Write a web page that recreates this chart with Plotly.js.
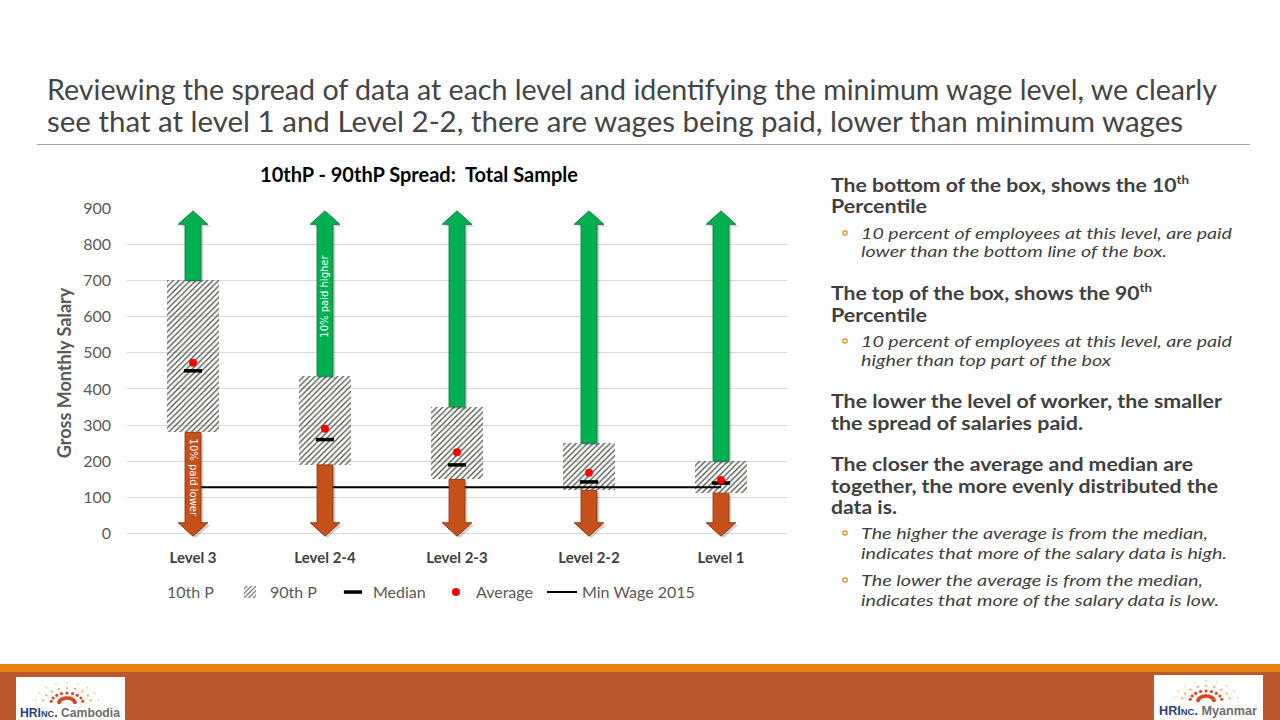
<!DOCTYPE html>
<html>
<head>
<meta charset="utf-8">
<script src="https://cdn.plot.ly/plotly-3.0.1.min.js"></script>
<style>
  html, body { margin: 0; padding: 0; background: #ffffff; }
  body { width: 1280px; height: 720px; position: relative; overflow: hidden; }
  #slide { position: absolute; left: 0; top: 0; z-index: 1; }
  #chart { position: absolute; left: 0; top: 0; width: 1280px; height: 720px; z-index: 2; }
  .ttl { font-family: Lato, "Noto Sans", sans-serif; font-size: 29px; font-weight: 400; fill: #454545; }
  .hd { font-family: Lato, "Noto Sans", sans-serif; font-size: 19px; font-weight: bold; fill: #404040; }
  .bl { font-family: Lato, "Noto Sans", sans-serif; font-size: 16px; font-style: italic; fill: #404040; }
</style>
</head>
<body>
<svg id="slide" width="1280" height="720" xmlns="http://www.w3.org/2000/svg">
  <!-- slide title -->
  <text class="ttl" x="47" y="100" textLength="1170" lengthAdjust="spacingAndGlyphs">Reviewing the spread of data at each level and identifying the minimum wage level, we clearly</text>
  <text class="ttl" x="47" y="132" textLength="1136" lengthAdjust="spacingAndGlyphs">see that at level 1 and Level 2-2, there are wages being paid, lower than minimum wages</text>
  <line x1="37" y1="144.5" x2="1250" y2="144.5" stroke="#a6a6a6" stroke-width="1"/>

  <!-- right-hand notes -->
  <text class="hd" x="831" y="192" textLength="358" lengthAdjust="spacingAndGlyphs">The bottom of the box, shows the 10<tspan font-size="12" dy="-8">th</tspan></text>
  <text class="hd" x="831" y="213" textLength="96" lengthAdjust="spacingAndGlyphs">Percentile</text>
  <circle cx="845" cy="233" r="2.2" fill="none" stroke="#E48312" stroke-width="1.2"/>
  <text class="bl" x="861" y="239" textLength="371" lengthAdjust="spacingAndGlyphs">10 percent of employees at this level, are paid</text>
  <text class="bl" x="861" y="257" textLength="306" lengthAdjust="spacingAndGlyphs">lower than the bottom line of the box.</text>

  <text class="hd" x="831" y="300" textLength="321" lengthAdjust="spacingAndGlyphs">The top of the box, shows the 90<tspan font-size="12" dy="-8">th</tspan></text>
  <text class="hd" x="831" y="322" textLength="96" lengthAdjust="spacingAndGlyphs">Percentile</text>
  <circle cx="845" cy="341" r="2.2" fill="none" stroke="#E48312" stroke-width="1.2"/>
  <text class="bl" x="861" y="347" textLength="371" lengthAdjust="spacingAndGlyphs">10 percent of employees at this level, are paid</text>
  <text class="bl" x="861" y="366" textLength="250" lengthAdjust="spacingAndGlyphs">higher than top part of the box</text>

  <text class="hd" x="831" y="408" textLength="391" lengthAdjust="spacingAndGlyphs">The lower the level of worker, the smaller</text>
  <text class="hd" x="831" y="430" textLength="252" lengthAdjust="spacingAndGlyphs">the spread of salaries paid.</text>

  <text class="hd" x="831" y="471" textLength="362" lengthAdjust="spacingAndGlyphs">The closer the average and median are</text>
  <text class="hd" x="831" y="493" textLength="387" lengthAdjust="spacingAndGlyphs">together, the more evenly distributed the</text>
  <text class="hd" x="831" y="514" textLength="66" lengthAdjust="spacingAndGlyphs">data is.</text>
  <circle cx="845" cy="533" r="2.2" fill="none" stroke="#E48312" stroke-width="1.2"/>
  <text class="bl" x="861" y="539" textLength="347" lengthAdjust="spacingAndGlyphs">The higher the average is from the median,</text>
  <text class="bl" x="861" y="559" textLength="366" lengthAdjust="spacingAndGlyphs">indicates that more of the salary data is high.</text>
  <circle cx="845" cy="580" r="2.2" fill="none" stroke="#E48312" stroke-width="1.2"/>
  <text class="bl" x="861" y="586" textLength="342" lengthAdjust="spacingAndGlyphs">The lower the average is from the median,</text>
  <text class="bl" x="861" y="606" textLength="358" lengthAdjust="spacingAndGlyphs">indicates that more of the salary data is low.</text>

  <!-- footer band -->
  <rect x="0" y="664" width="1280" height="8" fill="#E48312"/>
  <rect x="0" y="672" width="1280" height="48" fill="#BD582C"/>
  <rect x="16" y="677" width="109" height="43" fill="#ffffff"/>
  <rect x="1154" y="675" width="109" height="45" fill="#ffffff"/>
  <g id="logoL"></g>
  <g id="logoR"></g>
  <text x="20" y="717" font-family="Liberation Sans, Arial, sans-serif" font-weight="bold" font-size="12" fill="#2B3F7E" textLength="100" lengthAdjust="spacingAndGlyphs">HRI<tspan font-size="9">NC</tspan>. <tspan fill="#6d6d6d">Cambodia</tspan></text>
  <text x="1159" y="715" font-family="Liberation Sans, Arial, sans-serif" font-weight="bold" font-size="12" fill="#2B3F7E" textLength="98" lengthAdjust="spacingAndGlyphs">HRI<tspan font-size="9">NC</tspan>. <tspan fill="#6d6d6d">Myanmar</tspan></text>
</svg>

<div id="chart"></div>

<script>
// ---------------- data ----------------
const categories = ['Level 3', 'Level 2-4', 'Level 2-3', 'Level 2-2', 'Level 1'];
const p10     = [280, 190, 150, 120, 112];
const p90     = [700, 435, 350, 250, 200];
const median  = [450, 260, 190, 143, 140];
const average = [472, 290, 225, 168, 148];
const minWage = [128, 128, 128, 128, 128];

// ---------------- logos (decorative sunburst) ----------------
function sunburst(gid, cx, cy) {
  const g = document.getElementById(gid);
  const ns = 'http://www.w3.org/2000/svg';
  const angles = [170, 150, 130, 110, 90, 70, 50, 30, 10];
  angles.forEach(a => {
    const rad = a * Math.PI / 180;
    for (let k = 0; k < 4; k++) {
      const r = 5 + k * 5;
      const c = document.createElementNS(ns, 'circle');
      c.setAttribute('cx', cx + r * Math.cos(rad) * 1.6);
      c.setAttribute('cy', cy - r * Math.sin(rad));
      c.setAttribute('r', Math.max(0.6, 2.0 - k * 0.45));
      c.setAttribute('fill', k < 2 ? '#D9481C' : '#F2A35E');
      g.appendChild(c);
    }
  });
}
sunburst('logoL', 67, 703);
sunburst('logoR', 1206, 701);

// ---------------- chart ----------------
const idx = categories.map((_, i) => i);
const spread = p90.map((v, i) => v - p10[i]);

const UP_TIP = 892, DOWN_TIP = -7;      // arrow tip positions (axis units)
const SHAFT = 0.06, HEAD = 0.112;       // half widths in category units
const HEAD_H = 37;                      // arrow head length in axis units

function arrows(from, tip, dx, dy) {
  const X = [], Y = [];
  idx.forEach(i => {
    const dir = tip > from[i] ? 1 : -1;
    const yb = tip - dir * HEAD_H;
    const xs = [i - SHAFT, i - SHAFT, i - HEAD, i, i + HEAD, i + SHAFT, i + SHAFT, i - SHAFT];
    const ys = [from[i], yb, yb, tip, yb, yb, from[i], from[i]];
    xs.forEach((v, k) => { X.push(v + dx); Y.push(ys[k] + dy); });
    X.push(null); Y.push(null);
  });
  return { X, Y };
}
const gUp = arrows(p90, UP_TIP, 0, 0);
const gDn = arrows(p10, DOWN_TIP, 0, 0);
const sUp = arrows(p90, UP_TIP, 0.018, -6);
const sDn = arrows(p10, DOWN_TIP, 0.018, -6);

const FONT = 'Lato, "Noto Sans", sans-serif';

const traces = [
  { type: 'bar', name: '10th P', x: idx, y: p10, width: 0.4,
    marker: { color: 'rgba(0,0,0,0)' }, legendrank: 1 },
  { type: 'bar', name: '90th P', x: idx, y: spread, width: 0.4,
    marker: { color: '#eaeee2', line: { width: 0 },
              pattern: { shape: '/', fgcolor: '#4b5545', size: 4, solidity: 0.33 } },
    legendrank: 2 },
  { type: 'scatter', mode: 'lines', name: 'Min Wage 2015', x: idx, y: minWage,
    line: { color: '#000000', width: 2 }, legend: 'legend2' },
  { type: 'scatter', mode: 'lines', x: sUp.X, y: sUp.Y, fill: 'toself',
    fillcolor: 'rgba(0,0,0,0.18)', line: { width: 0 }, showlegend: false },
  { type: 'scatter', mode: 'lines', x: sDn.X, y: sDn.Y, fill: 'toself',
    fillcolor: 'rgba(0,0,0,0.18)', line: { width: 0 }, showlegend: false },
  { type: 'scatter', mode: 'lines', x: gUp.X, y: gUp.Y, fill: 'toself',
    fillcolor: '#00B050', line: { color: '#0B7D3E', width: 1 }, showlegend: false },
  { type: 'scatter', mode: 'lines', x: gDn.X, y: gDn.Y, fill: 'toself',
    fillcolor: '#C5501A', line: { color: '#8E3A12', width: 1 }, showlegend: false },
  { type: 'scatter', mode: 'markers', name: 'Median', x: idx, y: median,
    marker: { symbol: 'line-ew', size: 13, color: '#000000', line: { color: '#000000', width: 3.5 } },
    legendrank: 3 },
  { type: 'scatter', mode: 'markers', name: 'Average', x: idx, y: average,
    marker: { symbol: 'circle', size: 8, color: '#FF0000' }, legendrank: 4 }
];

const legendFont = { family: FONT, size: 16, color: '#595959' };

const layout = {
  width: 1280, height: 720,
  margin: { l: 127, r: 493, t: 208, b: 182, pad: 0 },
  paper_bgcolor: 'rgba(0,0,0,0)', plot_bgcolor: 'rgba(0,0,0,0)',
  barmode: 'stack', hovermode: false,
  font: { family: FONT, color: '#595959', size: 15 },
  title: { text: '10thP - 90thP Spread:  Total Sample', xref: 'container', x: 419 / 1280, xanchor: 'center',
           yref: 'container', y: 1 - 175 / 720, yanchor: 'middle',
           font: { family: FONT, size: 20, color: '#000000', weight: 'bold' } },
  xaxis: { range: [-0.5, 4.5], tickmode: 'array', tickvals: idx, ticktext: categories,
           showgrid: false, zeroline: false, showline: false, ticks: '',
           ticklabelstandoff: 9,
           tickfont: { family: FONT, size: 15, color: '#404040', weight: 'bold' } },
  yaxis: { range: [-12, 900], tick0: 0, dtick: 100, showgrid: true, gridcolor: '#d9d9d9', gridwidth: 1,
           zeroline: false, showline: false, ticks: '', ticklabelstandoff: 15,
           tickfont: { family: FONT, size: 16, color: '#595959' },
           title: { text: 'Gross Monthly Salary', standoff: 6,
                    font: { family: FONT, size: 18, color: '#595959', weight: 'bold' } } },
  legend: { orientation: 'h', x: 0, xanchor: 'left', y: -0.164, yanchor: 'middle',
            entrywidth: 58, entrywidthmode: 'pixels',
            font: legendFont, bgcolor: 'rgba(0,0,0,0)', traceorder: 'normal' },
  legend2: { orientation: 'h', x: (542 - 127) / 660, xanchor: 'left', y: -0.164, yanchor: 'middle',
             font: legendFont, bgcolor: 'rgba(0,0,0,0)' },
  annotations: [
    { x: 1, y: (p90[1] + UP_TIP - HEAD_H) / 2 + 10, xref: 'x', yref: 'y', text: '10% paid higher',
      textangle: -90, showarrow: false, font: { family: 'DejaVu Sans', size: 10, color: '#ffffff' } },
    { x: 0, y: (p10[0] + DOWN_TIP + HEAD_H) / 2, xref: 'x', yref: 'y', text: '10% paid lower',
      textangle: 90, showarrow: false, font: { family: 'DejaVu Sans', size: 10, color: '#ffffff' } }
  ]
};

Plotly.newPlot('chart', traces, layout, { displayModeBar: false, staticPlot: true });
</script>
</body>
</html>
